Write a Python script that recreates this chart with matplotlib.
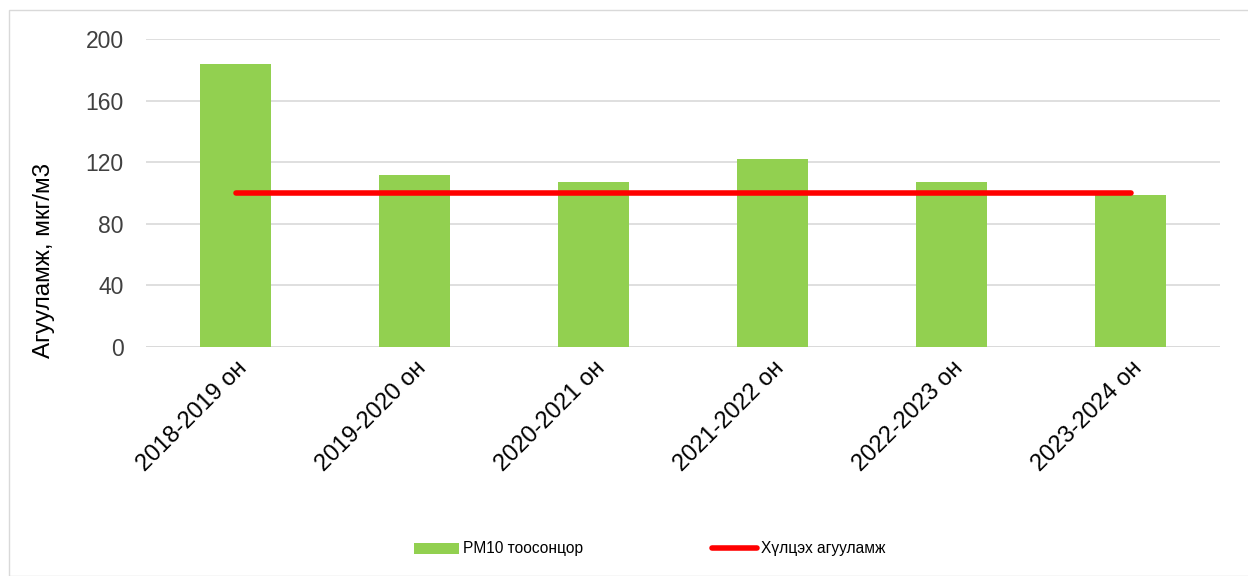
import matplotlib
matplotlib.use("Agg")
import matplotlib.pyplot as plt
from matplotlib.patches import Rectangle
import numpy as np

plt.rcParams["font.family"] = ["Liberation Sans", "DejaVu Sans"]

seasons = ["2018-2019 он", "2019-2020 он", "2020-2021 он",
           "2021-2022 он", "2022-2023 он", "2023-2024 он"]
pm10 = [184, 112, 107, 122, 107, 99]
limit = [100, 100, 100, 100, 100, 100]
y_ticks = [0, 40, 80, 120, 160, 200]

fig = plt.figure(figsize=(12.48, 5.76), dpi=100)
ax = fig.add_axes([146 / 1248, 1 - 347 / 576, (1220 - 146) / 1248, (347 - 39) / 576])

x = np.arange(len(seasons))
bars = ax.bar(x, pm10, width=0.4, color="#92D050", label="PM10 тоосонцор", zorder=2)
line, = ax.plot(x, limit, color="#FF0000", linewidth=4, solid_capstyle="round",
                label="Хүлцэх агууламж", zorder=3)

ax.set_xlim(-0.5, len(seasons) - 0.5)
ax.set_ylim(0, 200)
ax.set_yticks(y_ticks)
ax.tick_params(axis="y", labelsize=16.5, colors="#404040", length=0, pad=16)
ax.tick_params(axis="x", length=0, pad=7)
ax.set_xticks(x)
ax.set_xticklabels(seasons, rotation=45, ha="right", rotation_mode="anchor",
                   fontsize=17, color="black")
ax.grid(axis="y", color="#D9D9D9", linewidth=1.2, zorder=0)
for s in ax.spines.values():
    s.set_visible(False)
ax.axhline(0, color="#D9D9D9", linewidth=1.2, zorder=1)
ax.set_ylabel("Агууламж, мкг/м3", fontsize=17.5, color="black")
ax.yaxis.set_label_coords(-0.085, 0.28)

fig.legend([bars, line], ["PM10 тоосонцор", "Хүлцэх агууламж"],
           loc="center left", bbox_to_anchor=(400 / 1248, 1 - 549 / 576), ncol=2,
           frameon=False, fontsize=11.2, columnspacing=8.3, handlelength=2.9,
           handletextpad=0.25)

fig.patches.append(Rectangle((9 / 1248, 0), 1.2, 1 - 10 / 576, transform=fig.transFigure,
                             fill=False, edgecolor="#D9D9D9", linewidth=1))

fig.savefig("out.png", dpi=100)
